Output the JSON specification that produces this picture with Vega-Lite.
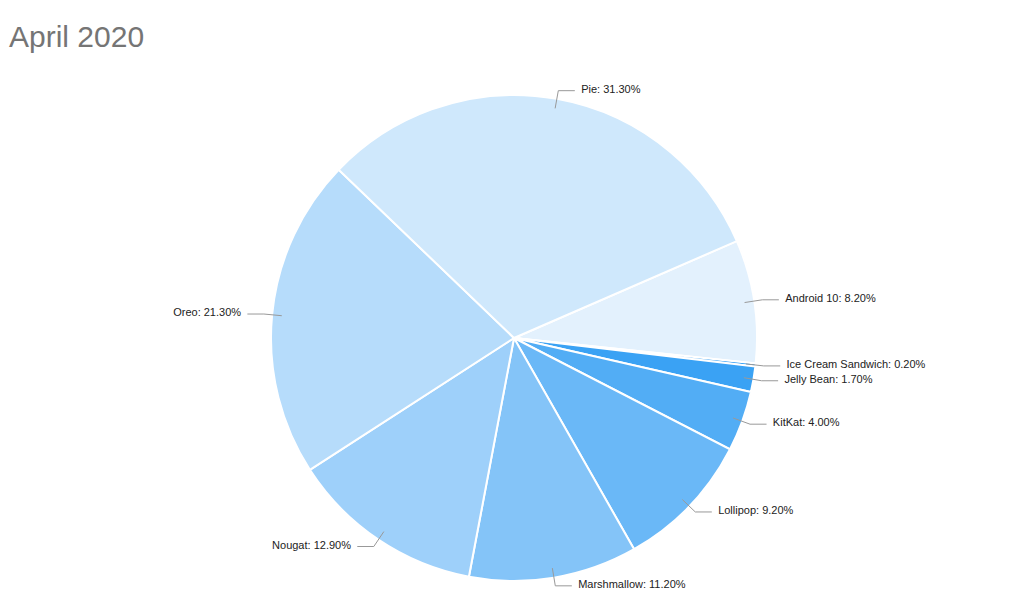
{
  "$schema": "https://vega.github.io/schema/vega-lite/v6.json",
  "width": 1020,
  "height": 486,
  "autosize": {"type": "none"},
  "padding": {"top": 95, "left": 4, "right": 0, "bottom": 12},
  "background": "white",
  "title": {
    "text": "April 2020",
    "anchor": "start",
    "frame": "group",
    "fontSize": 30,
    "font": "Liberation Sans",
    "fontWeight": "normal",
    "color": "#757575",
    "baseline": "alphabetic",
    "offset": 48,
    "dx": 5,
    "dy": 41
  },
  "config": {"view": {"stroke": null}},
  "data": {
    "values": [
      {"name": "Android 10", "value": 8.2},
      {"name": "Ice Cream Sandwich", "value": 0.2},
      {"name": "Jelly Bean", "value": 1.7},
      {"name": "KitKat", "value": 4.0},
      {"name": "Lollipop", "value": 9.2},
      {"name": "Marshmallow", "value": 11.2},
      {"name": "Nougat", "value": 12.9},
      {"name": "Oreo", "value": 21.3},
      {"name": "Pie", "value": 31.3}
    ]
  },
  "transform": [
    {"window": [{"op": "sum", "field": "value", "as": "cum"}], "sort": [{"field": "name", "order": "ascending"}]},
    {"calculate": "1.1606 + 2 * PI * (datum.cum - datum.value / 2) / 100", "as": "ang"},
    {"calculate": "sin(datum.ang) > 0 ? 1 : -1", "as": "side"},
    {"calculate": "0.96 * sin(datum.ang)", "as": "x0"},
    {"calculate": "0.96 * cos(datum.ang)", "as": "y0"},
    {"calculate": "1.034 * sin(datum.ang)", "as": "xe"},
    {"calculate": "1.034 * cos(datum.ang)", "as": "ye"},
    {"calculate": "datum.xe + datum.side * 0.068", "as": "x2"},
    {"calculate": "datum.x2 + datum.side * 0.026", "as": "xt"},
    {"calculate": "datum.ye + 0.004", "as": "yt"},
    {"calculate": "datum.name + ': ' + format(datum.value, '.2f') + '%'", "as": "label"}
  ],
  "layer": [
    {
      "mark": {"type": "arc", "outerRadius": 243, "stroke": "white", "strokeWidth": 2},
      "encoding": {
        "theta": {"field": "value", "type": "quantitative", "stack": true, "scale": {"range": [1.1606, 7.4438]}},
        "order": {"field": "name", "type": "nominal", "sort": "ascending"},
        "color": {
          "field": "name",
          "type": "nominal",
          "legend": null,
          "scale": {
            "domain": ["Android 10", "Ice Cream Sandwich", "Jelly Bean", "KitKat", "Lollipop", "Marshmallow", "Nougat", "Oreo", "Pie"],
            "range": ["#e3f1fd", "#2196f3", "#3aa2f4", "#52adf5", "#6ab8f7", "#84c4f8", "#9ed0fa", "#b6dcfb", "#cfe8fc"]
          }
        }
      }
    },
    {
      "mark": {"type": "rule", "color": "#999999", "strokeWidth": 1},
      "encoding": {
        "x": {"field": "x0", "type": "quantitative", "scale": {"domain": [-2.0988, 2.0988]}, "axis": null},
        "y": {"field": "y0", "type": "quantitative", "scale": {"domain": [-1, 1]}, "axis": null},
        "x2": {"field": "xe"},
        "y2": {"field": "ye"}
      }
    },
    {
      "mark": {"type": "rule", "color": "#999999", "strokeWidth": 1},
      "encoding": {
        "x": {"field": "xe", "type": "quantitative", "scale": {"domain": [-2.0988, 2.0988]}, "axis": null},
        "y": {"field": "ye", "type": "quantitative", "scale": {"domain": [-1, 1]}, "axis": null},
        "x2": {"field": "x2"},
        "y2": {"field": "ye"}
      }
    },
    {
      "transform": [{"filter": "datum.side > 0"}],
      "mark": {"type": "text", "font": "Liberation Sans", "fontSize": 11, "color": "#222222", "baseline": "middle", "align": "left"},
      "encoding": {
        "x": {"field": "xt", "type": "quantitative", "scale": {"domain": [-2.0988, 2.0988]}, "axis": null},
        "y": {"field": "yt", "type": "quantitative", "scale": {"domain": [-1, 1]}, "axis": null},
        "text": {"field": "label"}
      }
    },
    {
      "transform": [{"filter": "datum.side < 0"}],
      "mark": {"type": "text", "font": "Liberation Sans", "fontSize": 11, "color": "#222222", "baseline": "middle", "align": "right"},
      "encoding": {
        "x": {"field": "xt", "type": "quantitative", "scale": {"domain": [-2.0988, 2.0988]}, "axis": null},
        "y": {"field": "yt", "type": "quantitative", "scale": {"domain": [-1, 1]}, "axis": null},
        "text": {"field": "label"}
      }
    }
  ]
}
